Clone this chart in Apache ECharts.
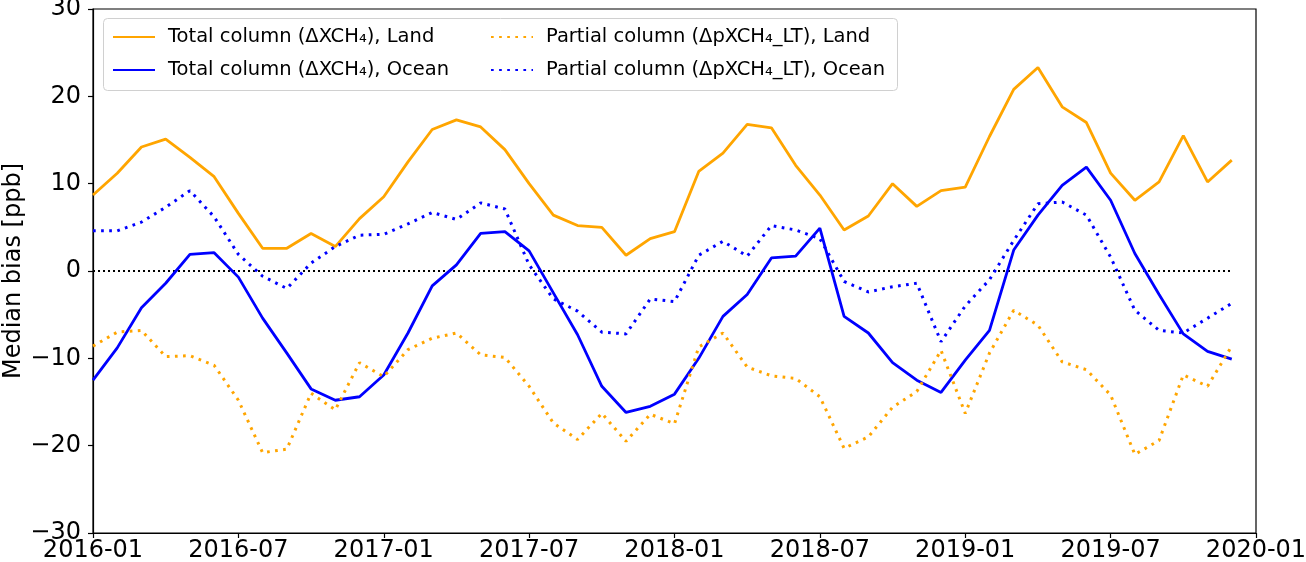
<!DOCTYPE html>
<html>
<head>
<meta charset="utf-8">
<script src="https://cdn.jsdelivr.net/npm/echarts@6/dist/echarts.min.js"></script>
<style>
html,body{margin:0;padding:0;background:#fff;}
#c{width:1306px;height:562px;}
</style>
</head>
<body>
<div id="c"></div>
<script>
// Months from 2016-01 to 2019-12
var months = [];
for (var y = 2016; y <= 2019; y++) for (var m = 1; m <= 12; m++) months.push(y + '-' + (m < 10 ? '0' + m : m));
var tickLabels = ['2016-01','2016-07','2017-01','2017-07','2018-01','2018-07','2019-01','2019-07','2020-01'];

var totalLand = [8.7,11.2,14.2,15.1,13.0,10.8,6.6,2.6,2.6,4.3,2.8,6.0,
  8.5,12.5,16.2,17.3,16.5,13.9,10.0,6.4,5.2,5.0,1.8,3.7,
  4.5,11.4,13.5,16.8,16.4,12.1,8.7,4.7,6.3,10.0,7.4,9.2,
  9.6,15.4,20.8,23.3,18.8,17.0,11.2,8.1,10.2,15.5,10.2,12.7];
var totalOcean = [-12.5,-8.8,-4.2,-1.4,1.9,2.1,-0.7,-5.4,-9.4,-13.5,-14.8,-14.4,
  -11.9,-7.1,-1.7,0.7,4.3,4.5,2.3,-2.5,-7.3,-13.2,-16.2,-15.5,
  -14.1,-10.0,-5.2,-2.7,1.5,1.7,4.9,-5.2,-7.1,-10.5,-12.5,-13.9,
  -10.2,-6.8,2.4,6.4,9.8,11.9,8.1,2.0,-2.7,-7.2,-9.2,-10.1];
var partialLand = [-8.6,-7.0,-6.8,-9.8,-9.7,-10.8,-14.8,-20.8,-20.4,-14.0,-15.9,-10.5,
  -12.1,-9.0,-7.7,-7.1,-9.6,-9.9,-13.2,-17.4,-19.3,-16.3,-19.5,-16.4,
  -17.5,-8.7,-7.1,-11.0,-12.0,-12.3,-14.4,-20.3,-19.0,-15.6,-13.8,-9.1,
  -16.3,-9.4,-4.5,-6.2,-10.4,-11.3,-14.2,-21.0,-19.4,-11.9,-13.2,-8.6];
var partialOcean = [4.6,4.6,5.6,7.3,9.2,6.2,1.9,-0.6,-2.0,0.9,2.8,4.1,
  4.2,5.4,6.7,5.9,7.8,7.1,0.7,-3.2,-4.6,-7.0,-7.2,-3.2,
  -3.5,1.8,3.4,1.7,5.2,4.7,3.7,-1.2,-2.4,-1.8,-1.4,-8.1,
  -4.0,-1.0,3.5,7.7,7.9,6.4,1.6,-4.5,-6.8,-7.1,-5.4,-3.7];
var zeroLine = [0, 0];

var names = ['Total column (ΔXCH₄), Land', 'Total column (ΔXCH₄), Ocean',
             'Partial column (ΔpXCH₄_LT), Land', 'Partial column (ΔpXCH₄_LT), Ocean'];

function pairs(arr) { return arr.map(function (v, i) { return [i, v]; }); }

var font = 'DejaVu Sans';
var chart = echarts.init(document.getElementById('c'));
var solidW = 2.8, dotW = 3;
function mk(name, arr, color, dotted) {
  return {
    name: name, type: 'line', data: pairs(arr), symbol: 'none', showSymbol: false, animation: false,
    lineStyle: { color: color, width: dotted ? dotW : solidW, type: dotted ? [dotW * 0.9, dotW * 1.8] : 'solid' },
    itemStyle: { color: color }, z: 3
  };
}
var legendCommon = {
  orient: 'vertical', top: 21, z: 11,
  itemWidth: 42, itemHeight: 14, itemGap: 11,
  itemStyle: { opacity: 0, borderWidth: 0 },
  textStyle: { fontFamily: font, fontSize: 19.5, color: '#000', lineHeight: 22, padding: [0, 0, 0, 8] }
};
chart.setOption({
  animation: false,
  backgroundColor: '#fff',
  grid: { left: 93, right: 50, top: 9, bottom: 29, show: true, borderColor: '#000', borderWidth: 1.2,
          containLabel: false, outerBoundsMode: 'none' },
  graphic: [{
    type: 'rect', left: 103, top: 18, z: 10,
    shape: { width: 794, height: 72, r: 4 },
    style: { fill: 'rgba(255,255,255,0.85)', stroke: '#d0d0d0', lineWidth: 1 }
  }],
  legend: [
    Object.assign({ data: [names[0], names[1]], left: 107 }, legendCommon),
    Object.assign({ data: [names[2], names[3]], left: 485 }, legendCommon)
  ],
  xAxis: {
    type: 'value', min: 0, max: 48, interval: 6,
    axisLine: { show: true, onZero: false, lineStyle: { color: '#000', width: 1.2 } },
    axisTick: { show: true, length: 5, lineStyle: { color: '#000', width: 1.2 } },
    splitLine: { show: false },
    axisLabel: { fontFamily: font, fontSize: 24, color: '#000', margin: 6,
      formatter: function (v) { return tickLabels[Math.round(v / 6)]; } }
  },
  yAxis: {
    type: 'value', min: -30, max: 30, interval: 10,
    name: 'Median bias [ppb]', nameLocation: 'middle', nameGap: 67, nameMoveOverlap: false,
    nameTextStyle: { fontFamily: font, fontSize: 24, color: '#000' },
    axisLine: { show: true, onZero: false, lineStyle: { color: '#000', width: 1.2 } },
    axisTick: { show: true, length: 5, lineStyle: { color: '#000', width: 1.2 } },
    splitLine: { show: false },
    axisLabel: { fontFamily: font, fontSize: 24, color: '#000', margin: 12,
      formatter: function (v) { return String(v).replace('-', '\u2212'); } }
  },
  series: [
    mk(names[0], totalLand, '#FFA500', false),
    mk(names[1], totalOcean, '#0000FF', false),
    mk(names[2], partialLand, '#FFA500', true),
    mk(names[3], partialOcean, '#0000FF', true),
    { name: 'zero', type: 'line', symbol: 'none', data: [[0, zeroLine[0]], [47, zeroLine[1]]],
      lineStyle: { color: '#000', width: 2, type: [2, 3] }, z: 2, silent: true }
  ]
});
</script>
</body>
</html>
